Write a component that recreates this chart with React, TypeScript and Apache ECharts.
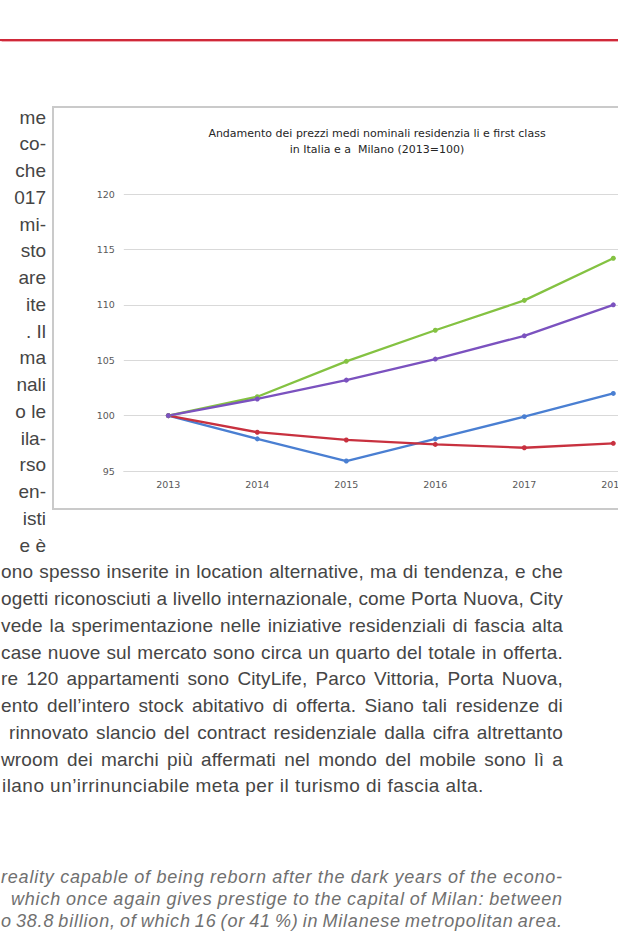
import React, { useEffect, useRef } from "react";
import * as echarts from "echarts";

// ---- chart data ----
const years = ["2013", "2014", "2015", "2016", "2017", "2018"];
const greenValues = [100, 101.7, 104.9, 107.7, 110.4, 114.2];
const purpleValues = [100, 101.5, 103.2, 105.1, 107.2, 110.0];
const blueValues = [100, 97.9, 95.9, 97.9, 99.9, 102.0];
const redValues = [100, 98.5, 97.8, 97.4, 97.1, 97.5];
const chartTitle =
  "Andamento dei prezzi medi nominali residenzia li e first class\nin Italia e a  Milano (2013=100)";

// ---- page text ----
const leftFragments = [
  "me", "co-", "che", "017", "mi-", "sto", "are", "ite", ". Il",
  "ma", "nali", "o le", "ila-", "rso", "en-", "isti", "e è",
];
const bottomLines = [
  "ono spesso inserite in location alternative, ma di tendenza, e che",
  "ogetti riconosciuti a livello internazionale, come Porta Nuova, City",
  "vede la sperimentazione nelle iniziative residenziali di fascia alta",
  "case nuove sul mercato sono circa un quarto del totale in offerta.",
  "re 120 appartamenti sono CityLife, Parco Vittoria, Porta Nuova,",
  "ento dell’intero stock abitativo di offerta. Siano tali residenze di",
  "rinnovato slancio del contract residenziale dalla cifra altrettanto",
  "wroom  dei marchi più affermati nel mondo del mobile sono lì a",
  "ilano un’irrinunciabile meta per il turismo di fascia alta.",
];
const bottomStarts = [1, 1, 1, 1, 1, 1, 9, 1, 2];
const italicLines = [
  "reality capable of being reborn after the dark years of the econo-",
  "which once again gives prestige to the capital of Milan: between",
  "o 38.8 billion, of which 16 (or 41 %) in Milanese metropolitan area.",
];
const italicStarts = [1, 11, 1];

const BODY_FONT = 19;
const BODY_LH = 26.75;
const BODY_COLOR = "#454545";

function JLine(props: {
  text: string;
  left: number;
  right: number;
  top: number;
  lh: number;
  style: React.CSSProperties;
}) {
  const words = props.text.split(/\s+/);
  return (
    <div
      style={{
        position: "absolute",
        left: props.left,
        width: props.right - props.left,
        top: props.top,
        height: props.lh,
        lineHeight: props.lh + "px",
        display: "flex",
        justifyContent: "space-between",
        whiteSpace: "nowrap",
        ...props.style,
      }}
    >
      {words.map((w, i) => (
        <span key={i}>{w}</span>
      ))}
    </div>
  );
}

function Chart() {
  const ref = useRef<HTMLDivElement>(null);
  useEffect(() => {
    if (!ref.current) return;
    const chart = echarts.init(ref.current, null, { renderer: "svg" });
    const mk = (name: string, data: number[], color: string) => ({
      name,
      type: "line",
      data,
      symbol: "circle",
      symbolSize: 5,
      smooth: false,
      lineStyle: { color, width: 2.3 },
      itemStyle: { color },
      emphasis: { disabled: true },
    });
    chart.setOption({
      animation: false,
      backgroundColor: "#ffffff",
      title: {
        text: chartTitle,
        left: 318,
        top: 12,
        textAlign: "center",
        textStyle: {
          fontFamily: "DejaVu Sans",
          fontSize: 11,
          fontWeight: "normal",
          color: "#262626",
          lineHeight: 16.6,
          align: "center",
        },
      },
      grid: { left: 69.8, right: 32.2, top: 86, bottom: 37 },
      xAxis: {
        type: "category",
        data: years,
        boundaryGap: true,
        axisLine: { show: true, lineStyle: { color: "#d9d9d9", width: 1 } },
        axisTick: { show: false },
        axisLabel: {
          margin: 8,
          color: "#595959",
          fontFamily: "DejaVu Sans",
          fontSize: 9.5,
        },
      },
      yAxis: {
        type: "value",
        min: 95,
        max: 120,
        interval: 5,
        axisLine: { show: false },
        axisTick: { show: false },
        splitLine: { lineStyle: { color: "#d9d9d9", width: 1 } },
        axisLabel: {
          margin: 9,
          color: "#595959",
          fontFamily: "DejaVu Sans",
          fontSize: 9.5,
        },
      },
      series: [
        mk("Italia", blueValues, "#4a7fd2"),
        mk("Milano", redValues, "#c8313f"),
        mk("Milano first class", greenValues, "#84c242"),
        mk("Italia first class", purpleValues, "#7b52bf"),
      ],
    });
    return () => chart.dispose();
  }, []);
  return <div ref={ref} style={{ width: 636, height: 400 }} />;
}

export default function App() {
  return (
    <div
      style={{
        position: "fixed",
        left: 0,
        top: 0,
        width: 618,
        height: 938,
        overflow: "hidden",
        background: "#ffffff",
        fontFamily: "'Liberation Sans', Arial, sans-serif",
      }}
    >
      <div
        style={{
          position: "absolute",
          left: 0,
          top: 39,
          width: 618,
          height: 2,
          background: "#cf2939",
          boxShadow: "0 0 1px 0.5px #f1a9b0",
        }}
      />
      <div
        style={{
          position: "absolute",
          left: 52,
          top: 106,
          width: 640,
          height: 404,
          border: "2px solid #cacaca",
          boxSizing: "border-box",
          background: "#fff",
        }}
      >
        <Chart />
      </div>
      {leftFragments.map((t, i) => (
        <div
          key={"lf" + i}
          style={{
            position: "absolute",
            left: 0,
            width: 46,
            textAlign: "right",
            top: 118.5 + BODY_LH * i - 14,
            height: BODY_LH,
            lineHeight: BODY_LH + "px",
            fontSize: BODY_FONT,
            color: BODY_COLOR,
            whiteSpace: "nowrap",
          }}
        >
          {t}
        </div>
      ))}
      {bottomLines.map((t, j) => {
        const top = 573.25 + BODY_LH * j - 14;
        const style = { fontSize: BODY_FONT, color: BODY_COLOR, letterSpacing: 0.15 };
        if (j === bottomLines.length - 1) {
          return (
            <div
              key={"bl" + j}
              style={{
                position: "absolute",
                left: bottomStarts[j],
                top,
                height: BODY_LH,
                lineHeight: BODY_LH + "px",
                whiteSpace: "nowrap",
                ...style,
                letterSpacing: 0.45,
              }}
            >
              {t}
            </div>
          );
        }
        return (
          <JLine
            key={"bl" + j}
            text={t}
            left={bottomStarts[j]}
            right={563}
            top={top}
            lh={BODY_LH}
            style={style}
          />
        );
      })}
      {italicLines.map((t, k) => (
        <JLine
          key={"it" + k}
          text={t}
          left={italicStarts[k]}
          right={563}
          top={878.5 + 22 * k - 12.5}
          lh={22}
          style={{ fontSize: 18, fontStyle: "italic", color: "#707070", letterSpacing: 0.8 }}
        />
      ))}
    </div>
  );
}
